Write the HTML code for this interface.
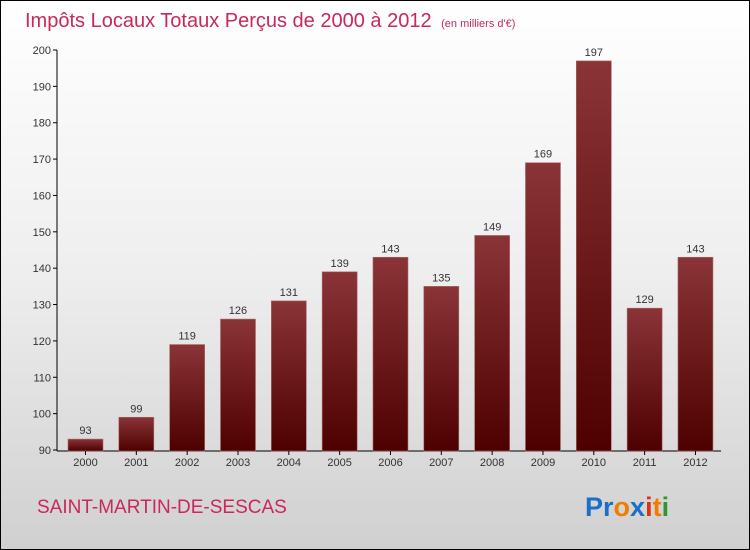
<!DOCTYPE html>
<html><head><meta charset="utf-8"><style>
body{margin:0}
#root{position:relative;width:748px;height:548px;border:1px solid #000;background:linear-gradient(#fff 0%,#eee 50%,#d0d0d0 100%);font-family:"Liberation Sans",sans-serif;overflow:hidden}
</style></head><body>
<div id="root">
<svg width="748" height="548" id="svg">
<defs><linearGradient id="g" x1="0" y1="0" x2="0" y2="1"><stop offset="0" stop-color="#8a3438"/><stop offset="1" stop-color="#4e0000"/></linearGradient></defs>
<text x="24" y="26" font-size="20" fill="#c8285a">Impôts Locaux Totaux Perçus de 2000 à 2012 <tspan font-size="11" dx="4">(en milliers d'€)</tspan></text>
<text x="36" y="512" font-size="19" fill="#c8285a">SAINT-MARTIN-DE-SESCAS</text>
<text x="584" y="515" font-size="27" font-weight="bold"><tspan fill="#1a6fc8">Pr</tspan><tspan fill="#f07d00">o</tspan><tspan fill="#1a6fc8">x</tspan><tspan fill="#e03010">i</tspan><tspan fill="#f07d00">t</tspan><tspan fill="#2a9a30">i</tspan></text>
<g id="plot"></g>
</svg>
</div>
<script>
const categories=["2000","2001","2002","2003","2004","2005","2006","2007","2008","2009","2010","2011","2012"];
const values=[93,99,119,126,131,139,143,135,149,169,197,129,143];
const ticks=[90,100,110,120,130,140,150,160,170,180,190,200];
const NS="http://www.w3.org/2000/svg";
const g=document.getElementById('plot');
const y=v=>449-(v-90)*(400/110);
const x=i=>67+i*50.83;
function mk(t,a){const e=document.createElementNS(NS,t);for(const k in a)e.setAttribute(k,a[k]);g.appendChild(e);return e;}
const ax=mk('line',{x1:56,y1:49,x2:56,y2:450,stroke:'#000'});


const bx=mk('line',{x1:56,y1:450,x2:720,y2:450,stroke:'#000'});


ticks.forEach(t=>{
  const l=mk('line',{x1:52,x2:56,y1:y(t),y2:y(t),stroke:'#000'});
  
  
  const tx=mk('text',{x:50,y:y(t)+4,'font-size':11,'text-anchor':'end',fill:'#333'});tx.textContent=t;
  
  
});
categories.forEach((c,i)=>{
  const v=values[i];
  const r=mk('rect',{x:x(i),y:y(v),width:35,height:y(90)-y(v)+1,fill:'url(#g)',stroke:'#aa6a6a','stroke-width':0.6});
  
  
  const vl=mk('text',{x:x(i)+17.5,y:y(v)-5,'font-size':11,'text-anchor':'middle',fill:'#333'});vl.textContent=v;
  
  
  const t=mk('line',{x1:x(i)+17.5,x2:x(i)+17.5,y1:450,y2:454,stroke:'#000'});
  
  
  const xl=mk('text',{x:x(i)+17.5,y:465,'font-size':11,'text-anchor':'middle',fill:'#333'});xl.textContent=c;
  
  
});
</script>
</body></html>
